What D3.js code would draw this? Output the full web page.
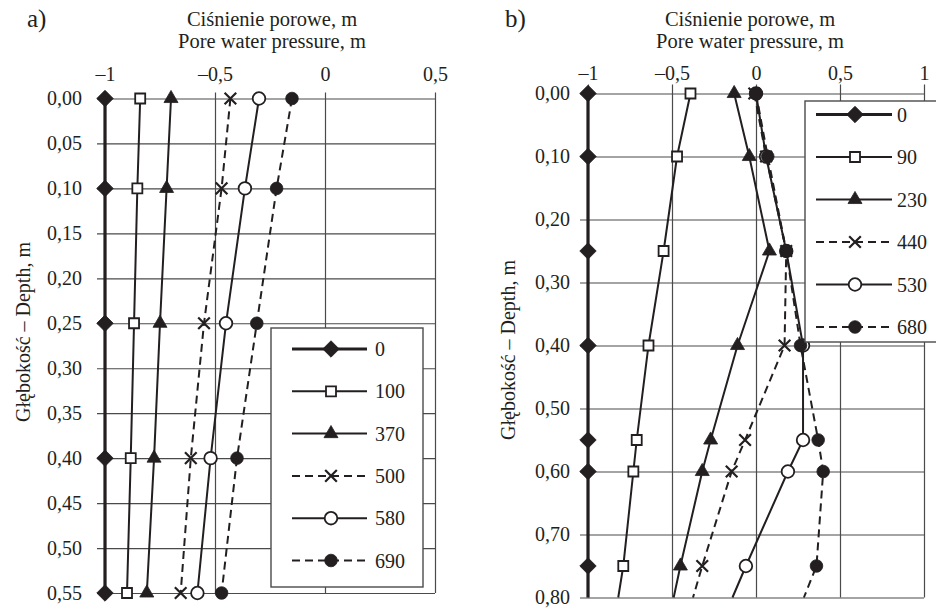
<!DOCTYPE html>
<html>
<head>
<meta charset="utf-8">
<script src="https://cdn.jsdelivr.net/npm/d3@7"></script>
<style>
  body { margin: 0; background: #fff; }
</style>
</head>
<body>
<div id="chart"></div>
<script>
// panel a) – depth (m) and pore pressure (m) per time step
const depthsA = [0, 0.1, 0.25, 0.4, 0.55];
const labelsA = ["0", "100", "370", "500", "580", "690"];
const a0 = [-1, -1, -1, -1, -1];
const a100 = [-0.84, -0.853, -0.868, -0.883, -0.9];
const a370 = [-0.7, -0.72, -0.75, -0.777, -0.81];
const a500 = [-0.43, -0.47, -0.55, -0.61, -0.656];
const a580 = [-0.3, -0.364, -0.45, -0.52, -0.58];
const a690 = [-0.15, -0.22, -0.31, -0.4, -0.47];
const xTicksA = [-1, -0.5, 0, 0.5];
const yTicksA = [0, 0.05, 0.1, 0.15, 0.2, 0.25, 0.3, 0.35, 0.4, 0.45, 0.5, 0.55];

// panel b)
const depthsB = [0, 0.1, 0.25, 0.4, 0.55, 0.6, 0.75];
const labelsB = ["0", "90", "230", "440", "530", "680"];
const b0 = [-1, -1, -1, -1, -1, -1, -1];
const b90 = [-0.39, -0.47, -0.55, -0.64, -0.71, -0.73, -0.79];
const b230 = [-0.13, -0.04, 0.08, -0.11, -0.27, -0.32, -0.45];
const b440 = [-0.01, 0.06, 0.18, 0.17, -0.065, -0.145, -0.32];
const b530 = [0, 0.06, 0.18, 0.28, 0.28, 0.19, -0.06];
const b680 = [0, 0.07, 0.18, 0.265, 0.37, 0.4, 0.36];
// where each line leaves the plot at the bottom edge (0,80 m)
const bottomDepthB = 0.8;
const bottomB = [-1, -0.82, -0.49, -0.375, -0.14, 0.285];
const xTicksB = [-1, -0.5, 0, 0.5, 1];
const yTicksB = [0, 0.1, 0.2, 0.3, 0.4, 0.5, 0.6, 0.7, 0.8];

const ink = "#231f20";
const gridColor = "#4a4a4a";
const serif = "'Liberation Serif', 'Times New Roman', 'DejaVu Serif', serif";

// marker / line style per series (same order in both panels)
const markers = [
  { type: d3.symbolSquare, size: 135, rotate: 45, fill: ink, sw: 0.8 },
  { type: d3.symbolSquare, size: 100, fill: "#fff", sw: 1.8 },
  { type: d3.symbolTriangle, size: 85, fill: ink, sw: 0.8 },
  { type: d3.symbolX, size: 90, fill: "none", sw: 2.2 },
  { type: d3.symbolCircle, size: 125, fill: "#fff", sw: 1.8 },
  { type: d3.symbolCircle, size: 125, fill: ink, sw: 0.8 }
];
const lineWidths = [3.2, 2, 2, 2, 2, 2];
const dashes = [null, null, null, "8,5", null, "8,5"];

const loc = d3.formatLocale({
  decimal: ",",
  thousands: " ",
  grouping: [3],
  currency: ["", ""],
  minus: "\u2013"
});
const fmtX = loc.format(".1~f");
const fmtY = loc.format(".2f");

const svg = d3
  .select("#chart")
  .append("svg")
  .attr("width", 936)
  .attr("height", 610)
  .style("display", "block")
  .attr("font-family", serif);

function drawPanel(p) {
  const g = svg.append("g").attr("font-family", serif);
  const x = d3.scaleLinear().domain(p.xDomain).range(p.xRange);
  const y = d3.scaleLinear().domain(p.yDomain).range(p.yRange);
  const w = p.xRange[1] - p.xRange[0];
  const h = p.yRange[1] - p.yRange[0];

  // top axis, ticks run down as vertical grid
  const xg = g
    .append("g")
    .attr("transform", `translate(0,${p.yRange[0]})`)
    .call(
      d3
        .axisTop(x)
        .tickValues(p.xTicks)
        .tickFormat(fmtX)
        .tickSizeInner(-h)
        .tickSizeOuter(0)
        .tickPadding(p.xPad)
    );
  xg.selectAll(".tick line").attr("y1", -p.tickOutTop);

  // left axis, ticks run across as horizontal grid
  const yg = g
    .append("g")
    .attr("transform", `translate(${p.xRange[0]},0)`)
    .call(
      d3
        .axisLeft(y)
        .tickValues(p.yTicks)
        .tickFormat(fmtY)
        .tickSizeInner(-w)
        .tickSizeOuter(0)
        .tickPadding(p.yPad)
    );
  yg.selectAll(".tick line").attr("x1", -p.tickOutLeft);

  [xg, yg].forEach((a) => {
    a.select(".domain").remove();
    a.attr("font-family", serif).attr("font-size", 20);
    a.selectAll(".tick line").attr("stroke", gridColor).attr("stroke-width", 1.2);
    a.selectAll(".tick text").attr("fill", ink);
  });

  // titles
  g.append("text")
    .attr("x", p.tag[0])
    .attr("y", p.tag[1])
    .attr("font-size", 25)
    .attr("fill", ink)
    .text(p.tagText);
  g.append("text")
    .attr("x", p.titleX)
    .attr("y", 26)
    .attr("text-anchor", "middle")
    .attr("font-size", 20.5)
    .attr("fill", ink)
    .text("Ciśnienie porowe, m");
  g.append("text")
    .attr("x", p.titleX)
    .attr("y", 48)
    .attr("text-anchor", "middle")
    .attr("font-size", 20.5)
    .attr("fill", ink)
    .text("Pore water pressure, m");
  g.append("text")
    .attr("transform", `translate(${p.yTitle[0]},${p.yTitle[1]}) rotate(-90)`)
    .attr("text-anchor", "middle")
    .attr("font-size", 20)
    .attr("fill", ink)
    .text("Głębokość – Depth, m");

  const series = p.values.map((vals, i) => ({
    i,
    label: p.labels[i],
    points: vals.map((v, j) => ({ depth: p.depths[j], value: v })),
    tail: p.tail ? [{ depth: p.tailDepth, value: p.tail[i] }] : []
  }));

  const lineGen = d3
    .line()
    .x((d) => x(d.value))
    .y((d) => y(d.depth));

  g.selectAll(".series-line")
    .data(series)
    .join("path")
    .attr("class", "series-line")
    .attr("fill", "none")
    .attr("stroke", ink)
    .attr("stroke-width", (d) => lineWidths[d.i])
    .attr("stroke-dasharray", (d) => dashes[d.i])
    .attr("d", (d) => lineGen(d.points.concat(d.tail)));

  const symbolPath = (i) => d3.symbol().type(markers[i].type).size(markers[i].size)();

  function addMarker(sel, i) {
    const m = markers[i];
    sel
      .append("path")
      .attr("d", symbolPath(i))
      .attr("transform", (d) => {
        const t = `translate(${d.px},${d.py})`;
        return m.rotate ? t + ` rotate(${m.rotate})` : t;
      })
      .attr("fill", m.fill)
      .attr("stroke", ink)
      .attr("stroke-width", m.sw);
  }

  series.forEach((s) => {
    const pts = s.points.map((d) => ({ px: x(d.value), py: y(d.depth) }));
    const mg = g.append("g").selectAll("g").data(pts).join("g");
    addMarker(mg, s.i);
  });

  // legend
  const L = p.legend;
  const lg = g.append("g");
  lg.append("rect")
    .attr("x", L.x)
    .attr("y", L.y)
    .attr("width", L.w)
    .attr("height", L.h)
    .attr("fill", "#fff")
    .attr("stroke", gridColor)
    .attr("stroke-width", 1.4);

  series.forEach((s) => {
    const ry = L.y + L.first + s.i * L.step;
    lg.append("line")
      .attr("x1", L.x + L.lineFrom)
      .attr("x2", L.x + L.lineTo)
      .attr("y1", ry)
      .attr("y2", ry)
      .attr("stroke", ink)
      .attr("stroke-width", lineWidths[s.i])
      .attr("stroke-dasharray", dashes[s.i]);
    const mg = lg.append("g").datum({ px: L.x + L.marker, py: ry });
    addMarker(mg, s.i);
    lg.append("text")
      .attr("x", L.x + L.text)
      .attr("y", ry)
      .attr("dy", "0.35em")
      .attr("font-size", 20)
      .attr("fill", ink)
      .text(s.label);
  });
}

drawPanel({
  xDomain: [-1, 0.5],
  xRange: [105, 435],
  yDomain: [0, 0.55],
  yRange: [98.5, 593],
  xTicks: xTicksA,
  yTicks: yTicksA,
  xPad: 18,
  yPad: 23,
  tickOutTop: 6,
  tickOutLeft: 8,
  tag: [27, 27],
  tagText: "a)",
  titleX: 272,
  yTitle: [30, 332],
  depths: depthsA,
  labels: labelsA,
  values: [a0, a100, a370, a500, a580, a690],
  legend: { x: 271, y: 328, w: 152, h: 259, first: 21, step: 42.3, lineFrom: 21, lineTo: 96, marker: 60, text: 104 }
});

drawPanel({
  xDomain: [-1, 1],
  xRange: [588, 924],
  yDomain: [0, 0.8],
  yRange: [93.5, 597.5],
  xTicks: xTicksB,
  yTicks: yTicksB,
  xPad: 14,
  yPad: 18,
  tickOutTop: 9,
  tickOutLeft: 8,
  tag: [505, 27],
  tagText: "b)",
  titleX: 750,
  yTitle: [515, 350],
  depths: depthsB,
  labels: labelsB,
  values: [b0, b90, b230, b440, b530, b680],
  tail: bottomB,
  tailDepth: bottomDepthB,
  legend: { x: 805, y: 101, w: 145, h: 241, first: 13.5, step: 42.5, lineFrom: 11, lineTo: 87, marker: 50, text: 92 }
});
</script>
</body>
</html>
